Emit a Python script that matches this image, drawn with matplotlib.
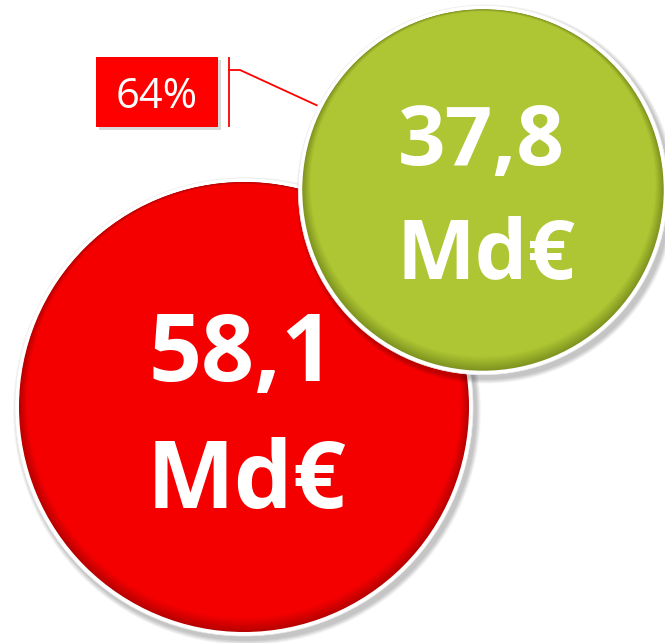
import numpy as np
import matplotlib
matplotlib.use("Agg")
import matplotlib.pyplot as plt
from matplotlib.patches import Circle, Rectangle
from matplotlib.colors import to_rgb

# ---- data ----
values = [58.1, 37.8]
value_labels = ["58,1", "37,8"]
unit_label = "Md€"
bubble_x = [2.44, 4.83]
bubble_y = [2.36, 4.53]
share_label = "64%"

# ---- style ----
fill_colors = ["#F40000", "#AEC633"]
dark_colors = ["#B80000", "#7F9420"]
W, H = 6.65, 6.43
r_max = 2.29

fig = plt.figure(figsize=(W, H), dpi=100)
ax = fig.add_axes([0, 0, 1, 1])
ax.set_xlim(0, W)
ax.set_ylim(0, H)
ax.set_aspect("equal")
ax.axis("off")

vmax = max(values)
radii = [r_max * np.sqrt(v / vmax) for v in values]


def draw_bubble(cx, cy, r, col, dark, z):
    # soft drop shadow
    for i in range(10):
        ax.add_patch(Circle((cx + 0.03, cy - 0.04), r + 0.005 * (10 - i),
                            facecolor="#000000", alpha=0.025, lw=0, zorder=z))
    # white rim
    ax.add_patch(Circle((cx, cy), r, facecolor="white", edgecolor="#eeeeee",
                        lw=0.5, zorder=z + 0.1))
    rin = r - 0.04
    c1 = np.array(to_rgb(dark))
    c2 = np.array(to_rgb(col))
    n = 14
    for i in range(n):
        t = i / (n - 1)
        c = c1 * (1 - t) + c2 * t
        ax.add_patch(Circle((cx, cy + 0.0045 * i), rin - 0.0045 * i * 1.4,
                            facecolor=c, lw=0, zorder=z + 0.2 + i * 0.001))


for i, (x, y, r) in enumerate(zip(bubble_x, bubble_y, radii)):
    draw_bubble(x, y, r, fill_colors[i], dark_colors[i], z=2 + i)

# labels
font = "Open Sans"
sizes = [67, 60]
offs = [(0.26, -1.01), (0.25, -0.89)]
for i, (x, y) in enumerate(zip(bubble_x, bubble_y)):
    ax.text(x - 0.02, y + offs[i][0], value_labels[i], ha="center", va="baseline",
            fontsize=sizes[i], fontweight="bold", color="white",
            family=font, zorder=10 + i)
    ax.text(x + 0.03, y + offs[i][1], unit_label, ha="center", va="baseline",
            fontsize=sizes[i], fontweight="bold", color="white",
            family=font, zorder=10 + i)

# callout box
bx0, by0, bw, bh = 0.96, 5.16, 1.22, 0.70
ax.add_patch(Rectangle((bx0 + 0.03, by0 - 0.03), bw, bh, facecolor="black",
                       alpha=0.15, lw=0, zorder=5))
ax.add_patch(Rectangle((bx0, by0), bw, bh, facecolor="#FF0000", lw=0, zorder=6))
ax.text(bx0 + bw / 2, by0 + 0.19, share_label, ha="center", va="baseline",
        fontsize=30, color="white", family=font, zorder=7)

# leader line
gx, gy, gr = bubble_x[1], bubble_y[1], radii[1]
ang = np.deg2rad(153)
ex, ey = gx + (gr + 0.02) * np.cos(ang), gy + (gr + 0.02) * np.sin(ang)
lx = bx0 + bw + 0.11
ax.plot([lx, lx], [by0, by0 + bh], color="#FF0000", lw=1.3, zorder=6,
        solid_capstyle="butt")
ax.plot([lx, lx + 0.11, ex], [by0 + 0.57, by0 + 0.57, ey], color="#FF0000",
        lw=1.3, zorder=6)

fig.savefig("out.png", dpi=100)
